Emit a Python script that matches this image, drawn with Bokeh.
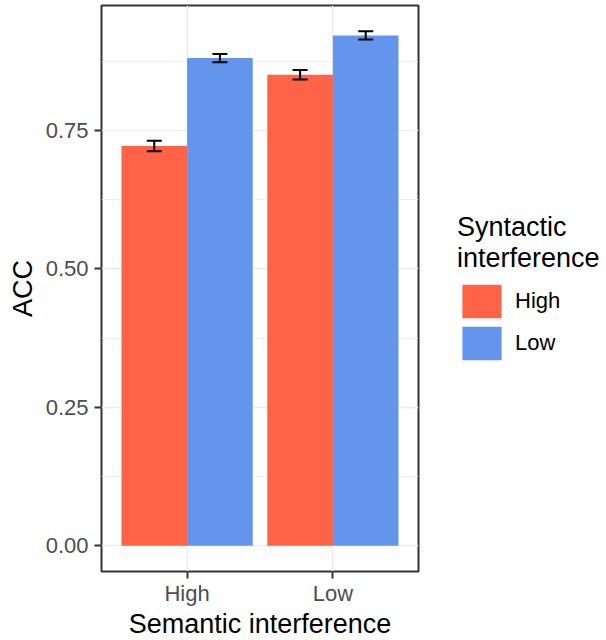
from bokeh.plotting import figure
from bokeh.models import (ColumnDataSource, FactorRange, Range1d, Whisker, TeeHead,
                          FixedTicker, Legend, LegendItem)
from bokeh.transform import dodge
from bokeh.embed import file_html
from bokeh.resources import INLINE

# Accuracy by semantic x syntactic interference (mean +/- SE)
semantic_levels = ["High", "Low"]
syntactic_levels = ["High", "Low"]
acc_syn_high = [0.722, 0.851]   # syntactic = High, per semantic level
acc_syn_low = [0.881, 0.922]    # syntactic = Low, per semantic level
se_syn_high = [0.0095, 0.0085]
se_syn_low = [0.0075, 0.0075]
y_ticks = [0.0, 0.25, 0.5, 0.75]
y_tick_labels = ["0.00", "0.25", "0.50", "0.75"]

colors = {"High": "#FF6347", "Low": "#6495ED"}
FONT = "Liberation Sans"

top_max = max(max(a + s for a, s in zip(acc_syn_high, se_syn_high)),
              max(a + s for a, s in zip(acc_syn_low, se_syn_low)))
pad = 0.05 * top_max

p = figure(
    x_range=FactorRange(factors=semantic_levels, range_padding=0.087),
    y_range=Range1d(-pad, top_max + pad),
    frame_width=317, frame_height=566,
    min_border_left=101, min_border_right=188,
    min_border_top=5, min_border_bottom=69,
    output_backend="svg", toolbar_location=None,
    background_fill_color="white", border_fill_color="white",
)

bar_w = 0.45
renderers = {}
for level, acc, se, off in [("High", acc_syn_high, se_syn_high, -bar_w / 2),
                            ("Low", acc_syn_low, se_syn_low, bar_w / 2)]:
    src = ColumnDataSource(dict(
        sem=semantic_levels, acc=acc,
        lower=[a - s for a, s in zip(acc, se)],
        upper=[a + s for a, s in zip(acc, se)],
    ))
    r = p.vbar(x=dodge("sem", off, range=p.x_range), top="acc", bottom=0,
               width=bar_w, source=src, fill_color=colors[level],
               line_color=None)
    renderers[level] = r
    w = Whisker(base=dodge("sem", off, range=p.x_range), upper="upper",
                lower="lower", source=src, line_color="black", line_width=2,
                level="annotation",
                upper_head=TeeHead(size=15, line_color="black", line_width=2),
                lower_head=TeeHead(size=15, line_color="black", line_width=2))
    p.add_layout(w)

# panel border and grid (bw theme)
p.outline_line_color = "#333333"
p.outline_line_width = 2
p.xgrid.grid_line_color = "#EBEBEB"
p.xgrid.grid_line_width = 1.5
p.ygrid.grid_line_color = "#EBEBEB"
p.ygrid.grid_line_width = 1.5
p.ygrid.minor_grid_line_color = "#EBEBEB"
p.ygrid.minor_grid_line_width = 0.8

p.yaxis.ticker = FixedTicker(ticks=y_ticks,
                             minor_ticks=[0.125, 0.375, 0.625, 0.875])
p.yaxis.major_label_overrides = dict(zip(y_ticks, y_tick_labels))

for ax in (p.xaxis[0], p.yaxis[0]):
    ax.axis_line_color = None
    ax.major_tick_line_color = "#333333"
    ax.major_tick_line_width = 2
    ax.major_tick_out = 7
    ax.major_tick_in = 0
    ax.minor_tick_line_color = None
    ax.major_label_text_font = FONT
    ax.major_label_text_font_size = "22px"
    ax.major_label_text_color = "#4D4D4D"
    ax.axis_label_text_font = FONT
    ax.axis_label_text_font_size = "27px"
    ax.axis_label_text_font_style = "normal"
    ax.axis_label_text_color = "black"

p.xaxis.axis_label = "Semantic interference"
p.yaxis.axis_label = "ACC"
p.xaxis.major_label_standoff = 2
p.yaxis.major_label_standoff = 6
p.xaxis.axis_label_standoff = 0
p.yaxis.axis_label_standoff = 5

legend = Legend(
    items=[LegendItem(label=lv, renderers=[renderers[lv]]) for lv in syntactic_levels],
    title="Syntactic\ninterference",
    location="center_left",
    border_line_color=None, background_fill_color="white",
    glyph_width=49, glyph_height=42, spacing=0, label_standoff=9,
    padding=0, margin=39,
    title_text_font=FONT, title_text_font_size="27px",
    title_text_font_style="normal", title_text_color="black",
    title_standoff=6,
    label_text_font=FONT, label_text_font_size="22px", label_text_color="black",
)
p.add_layout(legend, "right")

open("out.html", "w").write(file_html(p, INLINE))
